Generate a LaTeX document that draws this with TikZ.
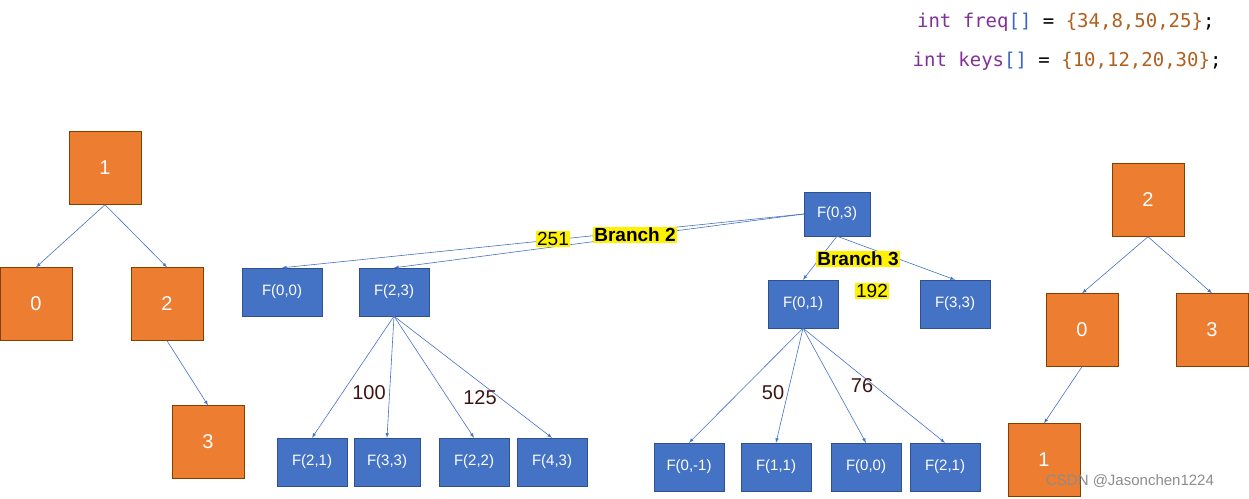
\documentclass[tikz,border=0pt]{standalone}
\usepackage{fontspec}
\setmainfont{Liberation Sans}
\newfontfamily\codefont{DejaVu Sans Mono}
\begin{document}
\begin{tikzpicture}[x=1pt,y=-1pt,
 on/.style={draw=black!50!orange,fill={rgb,255:red,237;green,125;blue,49},minimum width=72pt,minimum height=73pt,text=white,font=\fontsize{20}{20}\selectfont,inner sep=0},
 bn/.style={draw={rgb,255:red,47;green,82;blue,143},fill={rgb,255:red,68;green,114;blue,196},minimum width=70pt,minimum height=48pt,text=white,font=\fontsize{15}{15}\selectfont,inner sep=0},
 ed/.style={draw={rgb,255:red,68;green,114;blue,196},line width=0.6pt,-latex},
 num/.style={font=\fontsize{20}{20}\selectfont,text={rgb,255:red,60;green,20;blue,20},inner sep=0},
 hl/.style={fill=yellow,inner sep=1pt,font=\fontsize{19}{19}\selectfont}]
\useasboundingbox (0,0) rectangle (1249,498);
\definecolor{kw}{RGB}{130,50,150}\definecolor{br}{RGB}{60,100,200}\definecolor{nm}{RGB}{175,95,30}
\node[anchor=east,font=\codefont\fontsize{19}{19}\selectfont] (c1) at (1218,22) {\textcolor{kw}{int freq}\textcolor{br}{[]} = \textcolor{nm}{\{34,8,50,25\}};};
\node[anchor=east,font=\codefont\fontsize{19}{19}\selectfont] (c2) at (1225,61) {\textcolor{kw}{int keys}\textcolor{br}{[]} = \textcolor{nm}{\{10,12,20,30\}};};
% left tree
\node[on] (a1) at (105,168) {1};
\node[on] (a0) at (36,304) {0};
\node[on] (a2) at (167,304) {2};
\node[on] (a3) at (208,442) {3};
\draw[ed] (a1.south) -- (a0.north);
\draw[ed] (a1.south) -- (a2.north);
\draw[ed] (a2.south) -- (a3.north);
% right tree
\node[on] (b2) at (1148,200) {2};
\node[on] (b0) at (1082,330) {0};
\node[on] (b3) at (1212,330) {3};
\node[on] (b1) at (1044,460) {1};
\draw[ed] (b2.south) -- (b0.north);
\draw[ed] (b2.south) -- (b3.north);
\draw[ed] (b0.south) -- (b1.north);
% blue
\node[bn,minimum width=66pt,minimum height=44pt] (f03) at (837,214) {F(0,3)};
\node[bn,minimum width=80pt] (f00) at (282,292) {F(0,0)};
\node[bn] (f23) at (394,292) {F(2,3)};
\node[bn] (f01) at (803,304) {F(0,1)};
\node[bn] (f33) at (955,304) {F(3,3)};
\node[bn] (g21) at (312,462) {F(2,1)};
\node[bn,minimum width=66pt] (g33) at (387,462) {F(3,3)};
\node[bn] (g22) at (474,462) {F(2,2)};
\node[bn] (g43) at (552,462) {F(4,3)};
\node[bn] (h01) at (689,467) {F(0,-1)};
\node[bn] (h11) at (776,467) {F(1,1)};
\node[bn] (h00) at (866,467) {F(0,0)};
\node[bn] (h21) at (945,467) {F(2,1)};
\draw[ed] (f03.west) -- (f00.north);
\draw[ed] (f03.west) -- (f23.north);
\draw[ed] (f03.south) -- (f01.north);
\draw[ed] (f03.south) -- (f33.north);
\foreach \t in {g21,g33,g22,g43} \draw[ed] (f23.south) -- (\t.north);
\foreach \t in {h01,h11,h00,h21} \draw[ed] (f01.south) -- (\t.north);
\node[num] (n100) at (369,393) {100};
\node[num] (n125) at (480,398) {125};
\node[num] (n50) at (773,393) {50};
\node[num] (n76) at (862,386) {76};
\node[hl] (l251) at (553,239) {251};
\node[hl,font=\bfseries\fontsize{19}{19}\selectfont] (lb2) at (635,235) {Branch 2};
\node[hl,font=\bfseries\fontsize{19}{19}\selectfont] (lb3) at (858,259) {Branch 3};
\node[hl] (l192) at (872,291) {192};
\node[text=black!45,font=\fontsize{15}{15}\selectfont,inner sep=0] (wm) at (1130,481) {CSDN @Jasonchen1224};
\end{tikzpicture}
\end{document}
